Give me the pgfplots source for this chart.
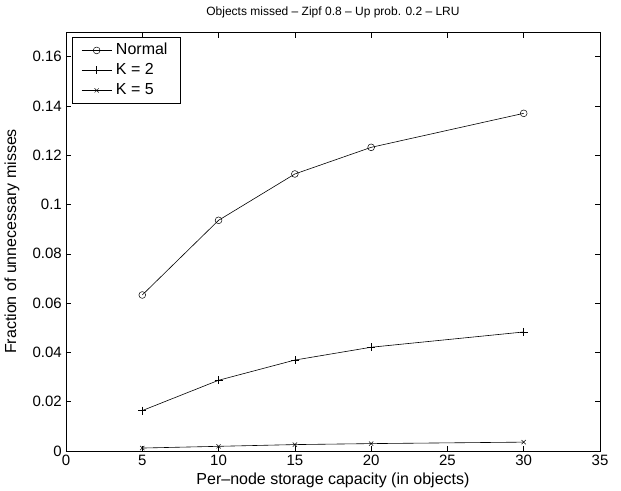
\documentclass[border=0pt]{standalone}
\usepackage{fontspec}
\setmainfont{Liberation Sans}
\usepackage{pgfplots}
\pgfplotsset{compat=1.18}
\begin{document}
\begin{tikzpicture}
\begin{axis}[
  name=ax,
  scale only axis,
  width=534pt, height=419pt,
  xmin=0, xmax=35, ymin=0, ymax=0.17,
  xtick={0,5,...,35},
  ytick={0,0.02,...,0.16},
  tick align=inside,
  tick pos=both,
  major tick length=5.5pt,
  axis line style={line width=0.9pt},
  every tick/.style={black, line width=0.6pt},
  /pgf/number format/assume math mode=true,
  yticklabel style={/pgf/number format/fixed, /pgf/number format/precision=2},
  scaled y ticks=false,
  tick label style={font=\fontsize{15}{17}\selectfont},
  xticklabel style={inner sep=4pt},
  yticklabel style={inner sep=4pt},
  xlabel={Per\textendash node storage capacity (in objects)},
  ylabel={Fraction of unnecessary misses},
  label style={font=\fontsize{16}{18}\selectfont},
  xlabel style={at={(axis description cs:0.5,-0.07)}, anchor=center},
  ylabel style={at={(axis description cs:-0.101,0.5)}, anchor=center},
  title={Objects missed \textendash{} Zipf 0.8 \textendash{} Up prob. 0.2 \textendash{} LRU},
  title style={font=\fontsize{12}{14}\selectfont, at={(axis description cs:0.5,1.033)}, anchor=center},
  legend cell align=left,
  legend style={font=\fontsize{16}{18}\selectfont, draw=black, line width=0.8pt,
    at={(0.0112,0.988)}, anchor=north west,
    inner xsep=9pt, inner ysep=3pt, row sep=0pt,
    nodes={inner xsep=4pt, inner ysep=1.5pt, text height=13pt, text depth=4pt}},
  legend image code/.code={%
    \draw[mark repeat=2, mark phase=2] plot coordinates {(0pt,0pt)(15pt,0pt)(30pt,0pt)};},
]
\addplot[black, line width=0.6pt, mark=o, mark size=3.4pt, mark options={line width=0.5pt}]
  coordinates {(5,0.0633)(10,0.0936)(15,0.1124)(20,0.1232)(30,0.1370)};
\addlegendentry{Normal}
\addplot[black, line width=0.6pt, mark=+, mark size=4pt, mark options={line width=0.5pt}]
  coordinates {(5,0.0164)(10,0.0287)(15,0.0369)(20,0.0421)(30,0.0483)};
\addlegendentry{K = 2}
\addplot[black, line width=0.6pt, mark=x, mark size=3pt, mark options={line width=0.5pt}]
  coordinates {(5,0.0012)(10,0.0019)(15,0.0026)(20,0.0030)(30,0.0036)};
\addlegendentry{K = 5}
\end{axis}
\pgfresetboundingbox
\path ([shift={(-66pt,-39.3pt)}]ax.south west) rectangle ([shift={(21pt,32pt)}]ax.north east);
\end{tikzpicture}
\end{document}
